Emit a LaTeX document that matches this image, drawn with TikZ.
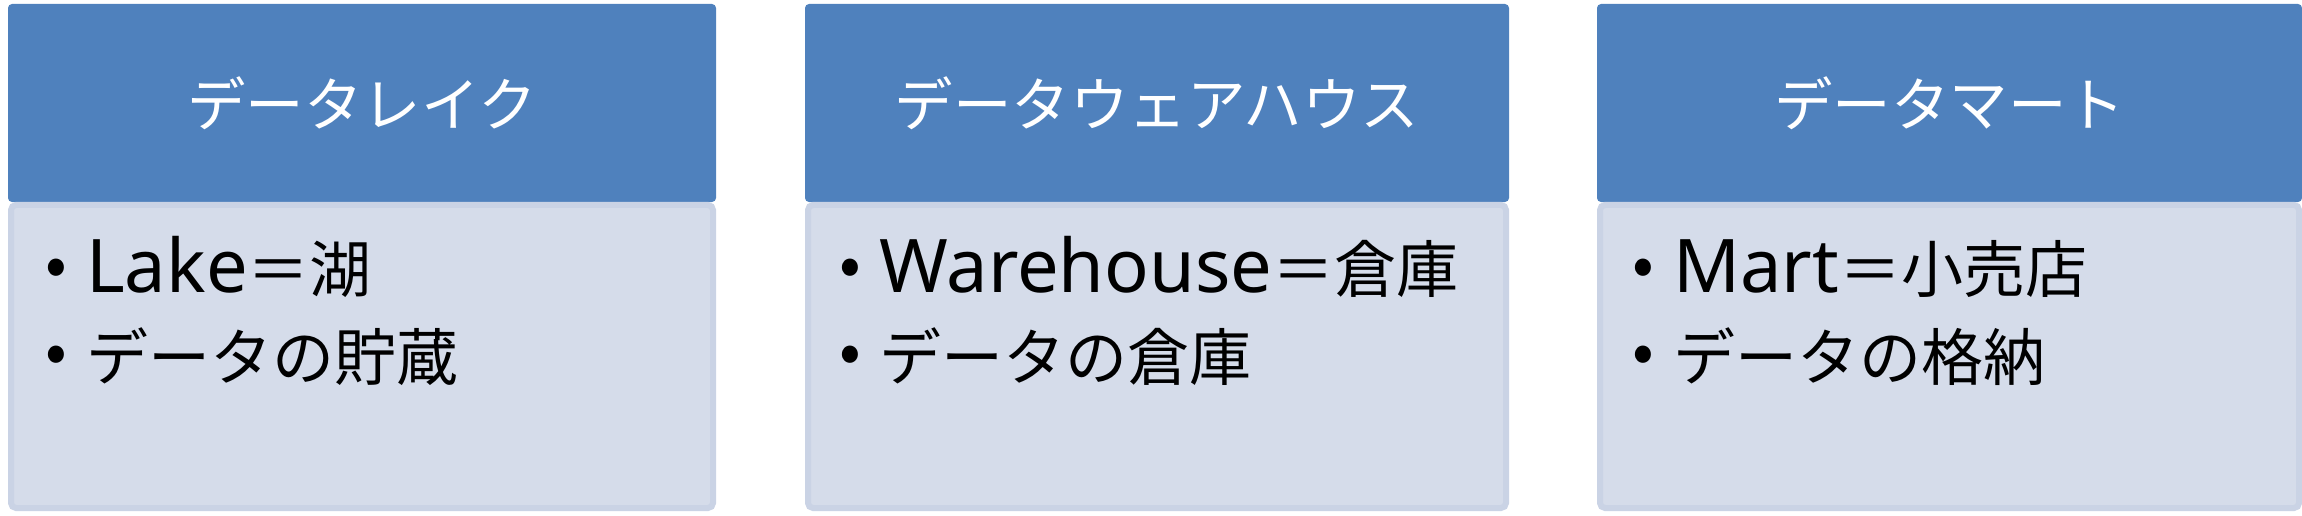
\documentclass[tikz,border=0pt]{standalone}
\usepackage{fontspec}
\setmainfont{Noto Sans CJK JP}
\newfontfamily\latinfam{Noto Sans}
\newcommand\mylatin[1]{{\latinfam\fontsize{74bp}{74bp}\selectfont #1}}
\definecolor{hdr}{HTML}{4F81BD}
\definecolor{bodyfill}{HTML}{D5DCEA}
\definecolor{bodyedge}{HTML}{CAD3E5}
\begin{document}
\begin{tikzpicture}[x=1bp,y=-1bp,
  hdrbox/.style={fill=hdr, rounded corners=4bp, inner sep=0pt, outer sep=0pt, anchor=north west,
    minimum height=198bp, text=white, font=\fontsize{58.5bp}{58.5bp}\selectfont},
  bodybox/.style={fill=bodyfill, draw=bodyedge, line width=6bp, rounded corners=5bp, inner sep=0pt, outer sep=0pt,
    anchor=north west, minimum height=303bp},
  bodytext/.style={anchor=base west, inner sep=0pt, font=\fontsize{62bp}{62bp}\selectfont},
  bulletmark/.style={anchor=base, inner sep=0pt, font=\fontsize{64bp}{64bp}\selectfont}]
\useasboundingbox (0,0) rectangle (2302,516);
% column 1
\node[hdrbox, minimum width=708bp] (h1) at (8,4) {データレイク};
\node[bodybox, minimum width=702bp] (b1) at (11,205) {};
\node[bulletmark] (p1a) at (56,287) {•};
\node[bodytext] (t1a) at (86,293) {\mylatin{Lake}＝湖};
\node[bulletmark] (p1b) at (56,373) {•};
\node[bodytext] (t1b) at (86,380) {データの貯蔵};
% column 2
\node[hdrbox, minimum width=704bp] (h2) at (805,4) {データウェアハウス};
\node[bodybox, minimum width=698bp] (b2) at (808,205) {};
\node[bulletmark] (p2a) at (850,287) {•};
\node[bodytext] (t2a) at (879,293) {\mylatin{Warehouse}＝倉庫};
\node[bulletmark] (p2b) at (850,373) {•};
\node[bodytext] (t2b) at (879,380) {データの倉庫};
% column 3
\node[hdrbox, minimum width=705bp] (h3) at (1597,4) {データマート};
\node[bodybox, minimum width=699bp] (b3) at (1600,205) {};
\node[bulletmark] (p3a) at (1643,287) {•};
\node[bodytext] (t3a) at (1673,293) {\mylatin{Mart}＝小売店};
\node[bulletmark] (p3b) at (1643,373) {•};
\node[bodytext] (t3b) at (1673,380) {データの格納};
\end{tikzpicture}
\end{document}
